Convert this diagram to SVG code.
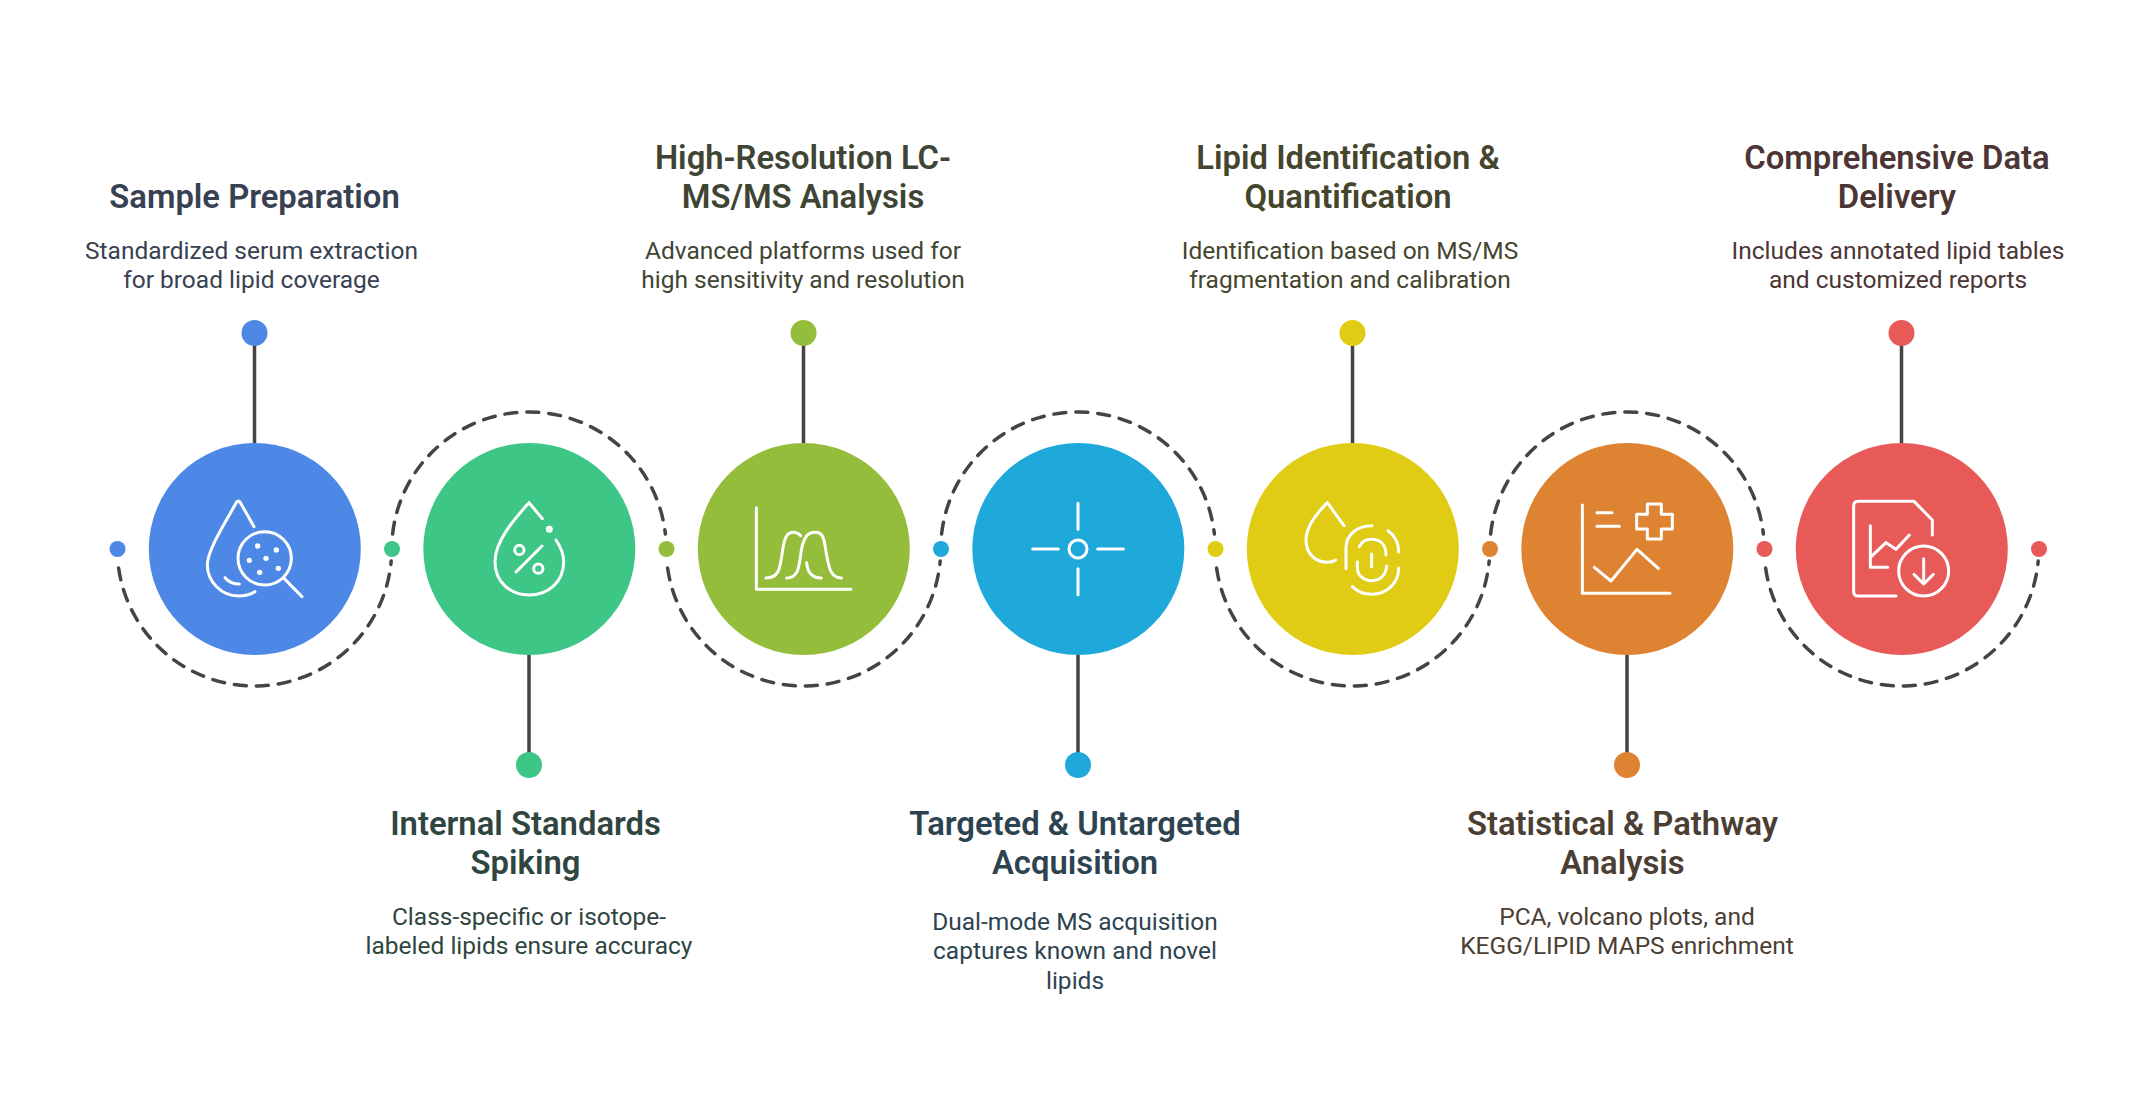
<svg xmlns="http://www.w3.org/2000/svg" width="2156" height="1098" viewBox="0 0 2156 1098">
<style>
text{font-family:Roboto,"Liberation Sans",sans-serif;text-anchor:middle}
.t{font-size:32.800px;font-weight:600}
.b{font-size:24.500px;font-weight:400}
.i{fill:none;stroke:#fff;stroke-width:9;stroke-linecap:round;stroke-linejoin:round}
.w{fill:#fff;stroke:none}
.stem{stroke:#444;stroke-width:3.5;fill:none}
.arc{stroke:#444;stroke-width:3.5;fill:none;stroke-dasharray:12 10;stroke-linecap:round}
</style>
<rect width="2156" height="1098" fill="#fff"/>
<g id="connectors">
<path class="arc" d="M118.600 568A137.250 137.250 0 0 0 391.200 561"/>
<path class="arc" d="M392.600 534A137.250 137.250 0 0 1 665.400 534"/>
<path class="arc" d="M667.600 568A137.250 137.250 0 0 0 940.200 561"/>
<path class="arc" d="M941.600 534A137.250 137.250 0 0 1 1214.400 534"/>
<path class="arc" d="M1216.600 568A137.250 137.250 0 0 0 1489.200 561"/>
<path class="arc" d="M1490.600 534A137.250 137.250 0 0 1 1763.400 534"/>
<path class="arc" d="M1765.600 568A137.250 137.250 0 0 0 2038.200 561"/>
<path class="stem" d="M254.500 333V443M529 655V765M803.500 333V443M1078 655V765M1352.500 333V443M1627 655V765M1901.500 333V443"/>
<circle cx="117.500" cy="549" r="8" fill="#4e88e6"/>
<circle cx="392" cy="549" r="8" fill="#3ec686"/>
<circle cx="666.500" cy="549" r="8" fill="#93bd3a"/>
<circle cx="941" cy="549" r="8" fill="#1fa9db"/>
<circle cx="1215.500" cy="549" r="8" fill="#e0cc14"/>
<circle cx="1490" cy="549" r="8" fill="#de8331"/>
<circle cx="1764.500" cy="549" r="8" fill="#e75a57"/>
<circle cx="2039" cy="549" r="8" fill="#e75a57"/>
</g>
<g id="node-sample-preparation">
<circle cx="254.800" cy="549" r="106" fill="#4e88e6"/>
<circle cx="254.500" cy="333" r="13" fill="#4e88e6"/>
<g transform="translate(180 470) scale(.33333)">
<path class="i" d="M222 170L180 96Q175 90 170 96C140 150 82 240 82 285C82 335 125 378 175 378C195 378 212 373 225 365"/>
<path class="i" d="M135 323C145 335 160 342 178 342"/>
<circle class="i" cx="254" cy="265" r="80"/>
<path class="i" d="M312 325L366 380"/>
<circle class="w" cx="233" cy="228" r="8"/><circle class="w" cx="289" cy="240" r="8"/><circle class="w" cx="208" cy="271" r="8"/><circle class="w" cx="258" cy="265" r="8"/><circle class="w" cx="295" cy="295" r="8"/><circle class="w" cx="239" cy="307" r="8"/>
</g>
<text class="t" x="254.500" y="208" fill="#374151">Sample Preparation</text>
<text class="b" fill="#374151"><tspan x="251.500" y="259">Standardized serum extraction</tspan><tspan x="251.500" y="288">for broad lipid coverage</tspan></text>
</g>
<g id="node-internal-standards">
<circle cx="529.300" cy="549" r="106" fill="#3ec686"/>
<circle cx="529" cy="765" r="13" fill="#3ec686"/>
<g transform="translate(460 470) scale(.33333)">
<path class="i" d="M247 146L207 98C170 140 105 210 105 275C105 335 150 375 207 375C265 375 311 335 311 275C311 250 300 228 288 210"/>
<circle class="i" cx="268" cy="178" r="6"/>
<circle class="i" cx="178" cy="240" r="14"/><circle class="i" cx="235" cy="296" r="14"/>
<path class="i" d="M168 306L246 228"/>
</g>
<text class="t" fill="#2f4540"><tspan x="525.500" y="835">Internal Standards</tspan><tspan x="525.500" y="874">Spiking</tspan></text>
<text class="b" fill="#2f4540"><tspan x="529" y="925">Class-specific or isotope-</tspan><tspan x="529" y="954">labeled lipids ensure accuracy</tspan></text>
</g>
<g id="node-lc-ms">
<circle cx="803.800" cy="549" r="106" fill="#93bd3a"/>
<circle cx="803.500" cy="333" r="13" fill="#93bd3a"/>
<g transform="translate(730 470) scale(.33333)">
<path class="i" d="M79 113V358H363"/>
<path class="i" d="M108 324C150 324 150 290 158 240C163 205 170 187 190 187C200 187 205 190 212 197"/>
<path class="i" d="M170 324C210 324 207 280 215 235C222 205 230 187 255 187C280 187 282 205 288 245C296 290 300 324 334 324"/>
<path class="i" d="M230 278C232 305 245 324 274 324"/>
</g>
<text class="t" fill="#3f4534"><tspan x="803" y="169">High-Resolution LC-</tspan><tspan x="803" y="208">MS/MS Analysis</tspan></text>
<text class="b" fill="#3f4534"><tspan x="803" y="259">Advanced platforms used for</tspan><tspan x="803" y="288">high sensitivity and resolution</tspan></text>
</g>
<g id="node-acquisition">
<circle cx="1078.300" cy="549" r="106" fill="#1fa9db"/>
<circle cx="1078" cy="765" r="13" fill="#1fa9db"/>
<g transform="translate(1000 470) scale(.33333)">
<circle class="i" cx="234" cy="237" r="27"/>
<path class="i" d="M234 100V178M234 296V374M98 237H175M293 237H370"/>
</g>
<text class="t" fill="#2d4450"><tspan x="1075" y="835">Targeted &amp; Untargeted</tspan><tspan x="1075" y="874">Acquisition</tspan></text>
<text class="b" fill="#2d4450"><tspan x="1075" y="930">Dual-mode MS acquisition</tspan><tspan x="1075" y="959">captures known and novel</tspan><tspan x="1075" y="989">lipids</tspan></text>
</g>
<g id="node-identification">
<circle cx="1352.800" cy="549" r="106" fill="#e0cc14"/>
<circle cx="1352.500" cy="333" r="13" fill="#e0cc14"/>
<g transform="translate(1270 470) scale(.33333)">
<path class="i" d="M222 167L172 98C140 130 108 170 108 210C108 250 135 277 172 277C180 277 190 275 197 270"/>
<path class="i" d="M228 296V235C228 195 260 167 306 167M354 182C375 197 386 220 386 246M386 294C386 340 350 373 305 373C280 373 262 365 247 350"/>
<path class="i" d="M268 230C275 215 290 208 305 208C332 208 348 225 348 255M262 275V293C262 315 280 332 305 332C330 332 348 315 350 288M305 252V290"/>
</g>
<text class="t" fill="#45452d"><tspan x="1348" y="169">Lipid Identification &amp;</tspan><tspan x="1348" y="208">Quantification</tspan></text>
<text class="b" fill="#45452d"><tspan x="1350" y="259">Identification based on MS/MS</tspan><tspan x="1350" y="288">fragmentation and calibration</tspan></text>
</g>
<g id="node-statistical">
<circle cx="1627.300" cy="549" r="106" fill="#de8331"/>
<circle cx="1627" cy="765" r="13" fill="#de8331"/>
<g transform="translate(1540 470) scale(.33333)">
<path class="i" d="M127 105V370H390M171 128H216M171 169H238M163 292L213 333L291 238L355 295"/>
<path class="i" d="M322 102H364V133H397V177H364V207H322V177H290V133H322Z"/>
</g>
<text class="t" fill="#4b3e33"><tspan x="1622.500" y="835">Statistical &amp; Pathway</tspan><tspan x="1622.500" y="874">Analysis</tspan></text>
<text class="b" fill="#4b3e33"><tspan x="1627" y="925">PCA, volcano plots, and</tspan><tspan x="1627" y="954">KEGG/LIPID MAPS enrichment</tspan></text>
</g>
<g id="node-delivery">
<circle cx="1901.800" cy="549" r="106" fill="#e75a57"/>
<circle cx="1901.500" cy="333" r="13" fill="#e75a57"/>
<g transform="translate(1810 470) scale(.33333)">
<path class="i" d="M258 378H145Q131 378 131 365V108Q131 94 145 94H312L367 150V195"/>
<path class="i" d="M181 167V292H233M181 262L228 218L258 238L298 195"/>
<circle class="i" cx="341" cy="303" r="75"/>
<path class="i" d="M341 266V342M312 313L341 342L370 313"/>
</g>
<text class="t" fill="#4c3535"><tspan x="1897" y="169">Comprehensive Data</tspan><tspan x="1897" y="208">Delivery</tspan></text>
<text class="b" fill="#4c3535"><tspan x="1898" y="259">Includes annotated lipid tables</tspan><tspan x="1898" y="288">and customized reports</tspan></text>
</g>
</svg>
